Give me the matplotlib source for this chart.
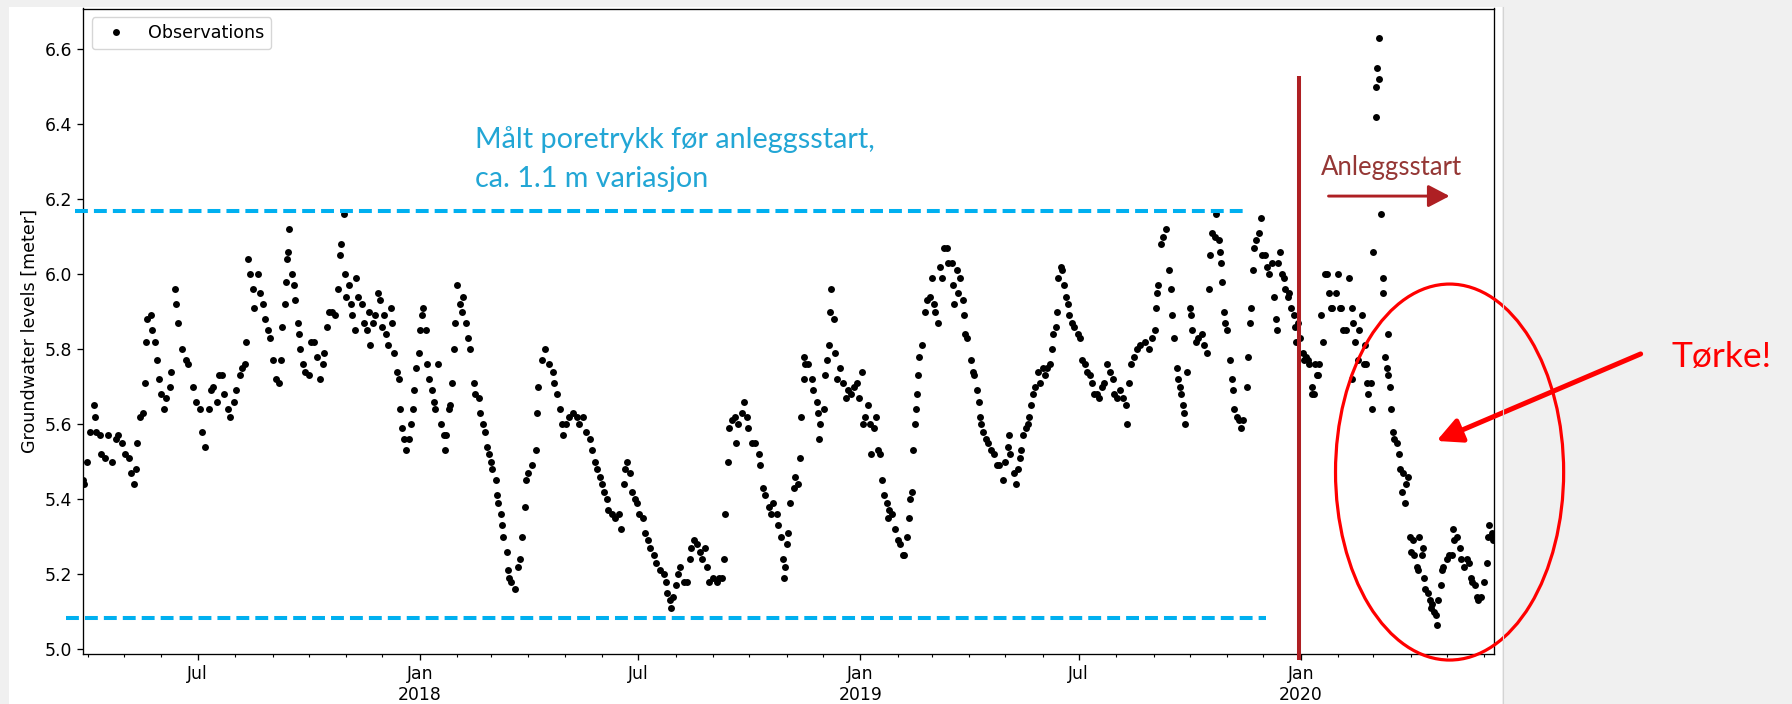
import numpy as np
import pandas as pd
import matplotlib
matplotlib.use('Agg')
import matplotlib.pyplot as plt
import matplotlib.dates as mdates
from matplotlib.patches import Ellipse, Rectangle
from matplotlib.lines import Line2D

# observation series: days since first reading, level in meter
start = pd.Timestamp('2017-03-28')

days = [
    0, 1, 3, 6, 9, 10, 11, 14, 15, 18,
    21, 24, 27, 29, 32, 35, 38, 40, 42, 44,
    45, 47, 50, 51, 52, 53, 56, 57, 60, 61,
    63, 65, 67, 69, 72, 73, 76, 77, 79, 82,
    85, 87, 91, 94, 97, 99, 101, 104, 106, 108,
    111, 113, 115, 117, 120, 122, 125, 127, 130, 132,
    134, 135, 137, 138, 141, 142, 145, 147, 149, 151,
    153, 155, 157, 160, 162, 164, 165, 167, 168, 169,
    170, 171, 173, 175, 176, 178, 179, 180, 182, 184,
    187, 189, 191, 194, 196, 199, 200, 202, 204, 206,
    209, 211, 213, 214, 216, 217, 218, 220, 222, 223,
    225, 226, 228, 231, 233, 235, 237, 238, 240, 242,
    244, 246, 248, 249, 251, 253, 255, 256, 258, 260,
    262, 263, 264, 266, 268, 270, 272, 273, 274, 276,
    278, 279, 281, 282, 284, 285, 287, 289, 291, 292,
    294, 297, 299, 300, 301, 303, 304, 306, 307, 308,
    310, 312, 314, 315, 317, 319, 321, 324, 325, 328,
    329, 331, 333, 335, 336, 338, 339, 342, 343, 344,
    346, 347, 348, 351, 352, 353, 355, 358, 360, 362,
    364, 366, 367, 369, 372, 375, 376, 377, 380, 383,
    386, 389, 390, 393, 395, 397, 398, 400, 403, 406,
    409, 411, 414, 417, 420, 422, 424, 426, 428, 430,
    432, 434, 435, 438, 441, 444, 446, 448, 449, 451,
    453, 455, 457, 459, 461, 464, 466, 468, 470, 473,
    475, 478, 481, 483, 484, 486, 487, 489, 491, 493,
    495, 498, 500, 503, 504, 506, 509, 511, 513, 515,
    517, 519, 522, 525, 527, 529, 531, 532, 534, 535,
    538, 540, 541, 543, 546, 548, 550, 551, 554, 557,
    560, 561, 563, 565, 568, 570, 572, 575, 576, 578,
    580, 581, 582, 583, 584, 586, 589, 590, 592, 594,
    595, 597, 597, 598, 601, 604, 605, 608, 609, 610,
    611, 614, 615, 616, 618, 619, 620, 622, 623, 625,
    627, 630, 632, 634, 636, 639, 641, 643, 645, 646,
    648, 650, 652, 653, 655, 657, 659, 660, 662, 664,
    666, 667, 668, 670, 673, 675, 677, 679, 680, 683,
    684, 685, 687, 688, 689, 690, 691, 692, 693, 695,
    698, 699, 702, 703, 705, 706, 708, 710, 712, 713,
    716, 717, 720, 721, 722, 724, 725, 727, 729, 730,
    731, 732, 736, 737, 738, 741, 742, 743, 744, 746,
    748, 750, 752, 755, 757, 759, 762, 764, 766, 767,
    768, 771, 773, 775, 776, 777, 779, 781, 783, 784,
    785, 787, 789, 791, 793, 795, 797, 799, 801, 803,
    804, 806, 807, 808, 810, 811, 813, 814, 816, 817,
    819, 821, 824, 826, 828, 830, 832, 834, 836, 838,
    840, 842, 844, 846, 848, 851, 853, 854, 857, 859,
    862, 864, 865, 867, 868, 871, 873, 876, 880, 883,
    886, 888, 889, 890, 891, 893, 895, 897, 900, 901,
    902, 904, 906, 907, 909, 910, 911, 912, 913, 915,
    917, 918, 919, 922, 924, 927, 929, 931, 933, 934,
    935, 938, 939, 941, 942, 943, 944, 945, 946, 948,
    950, 952, 953, 954, 956, 958, 959, 961, 964, 965,
    967, 968, 969, 970, 972, 974, 976, 977, 979, 981,
    983, 985, 987, 988, 989, 990, 992, 993, 995, 996,
    998, 999, 1001, 1003, 1004, 1005, 1007, 1008, 1011, 1012,
    1013, 1015, 1016, 1018, 1018, 1020, 1021, 1022, 1023, 1024,
    1026, 1027, 1029, 1031, 1032, 1034, 1035, 1038, 1040, 1041,
    1042, 1044, 1046, 1049, 1051, 1051, 1052, 1054, 1056, 1057,
    1060, 1061, 1062, 1063, 1064, 1065, 1067, 1068, 1069, 1071,
    1071, 1072, 1074, 1074, 1075, 1077, 1077, 1079, 1080, 1081,
    1081, 1083, 1084, 1085, 1086, 1089, 1090, 1091, 1093, 1094,
    1095, 1096, 1098, 1099, 1100, 1102, 1103, 1105, 1106, 1107,
    1109, 1110, 1111, 1112, 1114, 1116, 1117, 1118, 1119, 1121,
    1122, 1123, 1125, 1126, 1127, 1130, 1132, 1134, 1135, 1136,
    1138, 1141, 1142, 1144, 1147, 1148, 1150, 1151, 1153, 1155,
    1156, 1158, 1161, 1163, 1164, 1165, 1167, 1168, 1169,
]

level = [
    5.45, 5.44, 5.50, 5.58, 5.65, 5.62, 5.58, 5.57, 5.52, 5.51,
    5.57, 5.50, 5.56, 5.57, 5.55, 5.52, 5.51, 5.47, 5.44, 5.48,
    5.55, 5.62, 5.63, 5.71, 5.82, 5.88, 5.89, 5.85, 5.82, 5.77,
    5.72, 5.68, 5.64, 5.67, 5.70, 5.74, 5.96, 5.92, 5.87, 5.80,
    5.77, 5.76, 5.70, 5.66, 5.64, 5.58, 5.54, 5.64, 5.69, 5.70,
    5.66, 5.73, 5.73, 5.68, 5.64, 5.62, 5.66, 5.69, 5.73, 5.75,
    5.76, 5.82, 6.04, 6.00, 5.96, 5.91, 6.00, 5.95, 5.92, 5.88,
    5.85, 5.83, 5.77, 5.72, 5.71, 5.77, 5.86, 5.92, 5.98, 6.04,
    6.06, 6.12, 6.00, 5.97, 5.93, 5.87, 5.84, 5.80, 5.76, 5.74,
    5.73, 5.82, 5.82, 5.78, 5.72, 5.76, 5.79, 5.86, 5.90, 5.90,
    5.89, 5.96, 6.05, 6.08, 6.16, 6.00, 5.94, 5.97, 5.92, 5.89,
    5.85, 5.99, 5.94, 5.92, 5.87, 5.85, 5.90, 5.81, 5.87, 5.89,
    5.95, 5.93, 5.86, 5.89, 5.84, 5.81, 5.91, 5.87, 5.79, 5.74,
    5.72, 5.64, 5.59, 5.56, 5.53, 5.56, 5.60, 5.64, 5.69, 5.75,
    5.79, 5.85, 5.89, 5.91, 5.85, 5.76, 5.72, 5.69, 5.66, 5.64,
    5.76, 5.60, 5.57, 5.53, 5.57, 5.64, 5.65, 5.71, 5.80, 5.87,
    5.97, 5.92, 5.90, 5.94, 5.87, 5.83, 5.80, 5.71, 5.68, 5.67,
    5.63, 5.60, 5.58, 5.54, 5.52, 5.50, 5.48, 5.45, 5.41, 5.39,
    5.36, 5.33, 5.30, 5.26, 5.21, 5.19, 5.18, 5.16, 5.22, 5.24,
    5.30, 5.38, 5.45, 5.47, 5.49, 5.53, 5.63, 5.70, 5.77, 5.80,
    5.76, 5.74, 5.71, 5.68, 5.64, 5.60, 5.57, 5.60, 5.62, 5.63,
    5.62, 5.60, 5.62, 5.58, 5.56, 5.53, 5.50, 5.48, 5.46, 5.44,
    5.42, 5.40, 5.37, 5.36, 5.35, 5.36, 5.32, 5.44, 5.48, 5.50,
    5.47, 5.42, 5.40, 5.39, 5.36, 5.35, 5.31, 5.29, 5.27, 5.25,
    5.23, 5.21, 5.20, 5.18, 5.15, 5.13, 5.11, 5.14, 5.17, 5.20,
    5.22, 5.18, 5.18, 5.24, 5.27, 5.29, 5.28, 5.26, 5.24, 5.27,
    5.22, 5.18, 5.19, 5.18, 5.19, 5.19, 5.24, 5.36, 5.50, 5.59,
    5.61, 5.62, 5.55, 5.60, 5.63, 5.66, 5.62, 5.59, 5.55, 5.55,
    5.52, 5.49, 5.43, 5.41, 5.38, 5.36, 5.39, 5.36, 5.33, 5.30,
    5.24, 5.19, 5.22, 5.28, 5.31, 5.39, 5.43, 5.46, 5.44, 5.51,
    5.62, 5.72, 5.78, 5.76, 5.76, 5.72, 5.69, 5.66, 5.63, 5.56,
    5.60, 5.64, 5.73, 5.77, 5.81, 5.90, 5.96, 5.88, 5.79, 5.72,
    5.75, 5.71, 5.67, 5.69, 5.68, 5.70, 5.71, 5.67, 5.74, 5.60,
    5.62, 5.65, 5.60, 5.52, 5.59, 5.62, 5.53, 5.52, 5.45, 5.41,
    5.39, 5.35, 5.37, 5.36, 5.32, 5.29, 5.28, 5.25, 5.25, 5.30,
    5.35, 5.40, 5.42, 5.53, 5.60, 5.64, 5.68, 5.73, 5.78, 5.81,
    5.90, 5.93, 5.94, 5.99, 5.92, 5.90, 5.87, 6.02, 5.99, 6.07,
    6.07, 6.03, 6.03, 5.97, 5.92, 6.01, 5.95, 5.99, 5.93, 5.89,
    5.84, 5.83, 5.77, 5.74, 5.73, 5.69, 5.66, 5.62, 5.60, 5.58,
    5.56, 5.55, 5.53, 5.52, 5.49, 5.49, 5.45, 5.50, 5.54, 5.57,
    5.52, 5.47, 5.44, 5.48, 5.51, 5.53, 5.57, 5.59, 5.60, 5.62,
    5.65, 5.68, 5.70, 5.74, 5.71, 5.75, 5.73, 5.75, 5.76, 5.80,
    5.84, 5.86, 5.90, 5.99, 6.02, 6.01, 5.97, 5.94, 5.92, 5.89,
    5.87, 5.86, 5.84, 5.83, 5.77, 5.76, 5.74, 5.73, 5.71, 5.68,
    5.68, 5.67, 5.70, 5.71, 5.76, 5.74, 5.72, 5.68, 5.67, 5.69,
    5.67, 5.65, 5.60, 5.71, 5.76, 5.78, 5.80, 5.81, 5.82, 5.80,
    5.83, 5.85, 5.91, 5.95, 5.97, 6.08, 6.10, 6.12, 6.01, 5.96,
    5.89, 5.83, 5.75, 5.72, 5.70, 5.68, 5.65, 5.63, 5.60, 5.74,
    5.91, 5.89, 5.85, 5.82, 5.83, 5.84, 5.81, 5.79, 5.96, 6.05,
    6.11, 6.10, 6.16, 6.09, 6.06, 6.03, 5.98, 5.90, 5.87, 5.85,
    5.77, 5.72, 5.69, 5.64, 5.62, 5.61, 5.59, 5.61, 5.70, 5.78,
    5.87, 5.91, 6.01, 6.07, 6.09, 6.11, 6.15, 6.05, 6.05, 6.02,
    6.00, 6.03, 5.94, 5.88, 5.85, 6.03, 6.06, 6.00, 5.99, 5.96,
    5.94, 5.95, 5.91, 5.89, 5.86, 5.82, 5.87, 5.83, 5.79, 5.77,
    5.78, 5.77, 5.76, 5.70, 5.68, 5.68, 5.76, 5.73, 5.73, 5.76,
    5.89, 5.82, 6.00, 6.00, 5.95, 5.91, 5.91, 5.95, 6.00, 5.91,
    5.91, 5.85, 5.85, 5.99, 5.91, 5.72, 5.87, 5.82, 5.77, 5.85,
    5.89, 5.76, 5.81, 5.76, 5.71, 5.68, 5.71, 5.64, 6.06, 6.50,
    6.42, 6.55, 6.63, 6.52, 6.16, 5.99, 5.95, 5.78, 5.75, 5.84,
    5.73, 5.70, 5.64, 5.58, 5.56, 5.55, 5.52, 5.48, 5.42, 5.47,
    5.39, 5.44, 5.46, 5.30, 5.26, 5.29, 5.25, 5.22, 5.21, 5.30,
    5.25, 5.27, 5.19, 5.16, 5.15, 5.13, 5.11, 5.12, 5.10, 5.09,
    5.065, 5.13, 5.17, 5.21, 5.22, 5.24, 5.25, 5.25, 5.32, 5.29,
    5.30, 5.27, 5.24, 5.22, 5.24, 5.23, 5.19, 5.18, 5.17, 5.14,
    5.13, 5.14, 5.18, 5.23, 5.30, 5.33, 5.31, 5.29, 5.30,
]

dates = start + pd.to_timedelta(days, unit='D')


def at(d):
    # position on the time axis, d days after the first reading
    return mdates.date2num(start + pd.Timedelta(days=d))


plt.rcParams.update({
    'font.size': 12.4,
    'axes.linewidth': 0.95,
    'xtick.major.size': 4.1, 'xtick.minor.size': 2.3,
    'ytick.major.size': 4.1,
    'xtick.major.width': 0.95, 'xtick.minor.width': 0.8,
    'ytick.major.width': 0.95,
    'xtick.major.pad': 4, 'ytick.major.pad': 4,
})

fig = plt.figure(figsize=(17.92, 7.04), dpi=100, facecolor='#f0f0f0')
# white picture area pasted on the slide
fig.patches.append(Rectangle((9 / 1792, 0), 1493 / 1792, 697 / 704, transform=fig.transFigure,
                             facecolor='white', edgecolor='none', zorder=-2))
fig.add_artist(Line2D([1502.5 / 1792] * 2, [0, 697 / 704], color='#d4d4d4', lw=0.8))

ax = fig.add_axes([83 / 1792, 50 / 704, 1411 / 1792, 645.5 / 704])
ax.plot(dates, level, 'o', color='black', ms=5.0, mew=0, label='Observations')

ax.set_xlim(dates.min(), dates.max())
lo, hi = min(level), max(level)
pad = 0.05 * (hi - lo)
ax.set_ylim(lo - pad, hi + pad)

ax.xaxis.set_major_locator(mdates.MonthLocator(bymonth=[1, 7]))
ax.xaxis.set_minor_locator(mdates.MonthLocator())


def month_label(x, pos):
    d = mdates.num2date(x)
    return 'Jan\n%d' % d.year if d.month == 1 else 'Jul'


ax.xaxis.set_major_formatter(plt.FuncFormatter(month_label))
ax.yaxis.set_major_locator(plt.MultipleLocator(0.2))
ax.yaxis.set_major_formatter(plt.FormatStrFormatter('%.1f'))
ax.set_ylabel('Groundwater levels [meter]', fontsize=12.6)
ax.legend(loc='upper left', numpoints=1, fontsize=12.6)

# slide annotations
blue = '#00B0F0'
dark_red = '#AE1F23'
dash_kw = dict(color=blue, lw=2.9, dashes=(3.2, 1.5), clip_on=False, zorder=4)
ax.plot([at(-6.6), at(965.6)], [6.168, 6.168], **dash_kw)
ax.plot([at(-14), at(979.7)], [5.083, 5.083], **dash_kw)

ax.plot([at(1007.5)] * 2, [4.971, 6.528], color=dark_red, lw=2.9, clip_on=False,
        solid_capstyle='butt', zorder=4)

ax.text(at(324.9), 6.336, 'Målt poretrykk før anleggsstart,', color='#22A6D5',
        fontsize=20.7, family='Lato', va='baseline')
ax.text(at(324.9), 6.232, 'ca. 1.1 m variasjon', color='#22A6D5',
        fontsize=20.7, family='Lato', va='baseline')

ax.text(at(1026), 6.264, 'Anleggsstart', color='#953735', fontsize=18.5,
        family='Lato', va='baseline')
ax.annotate('', xy=(at(1132.2), 6.208), xytext=(at(1031.9), 6.208),
            arrowprops=dict(arrowstyle='-|>,head_length=1.3,head_width=0.68',
                            mutation_scale=10, color=dark_red, lw=2.1,
                            shrinkA=0, shrinkB=0), zorder=4)

ax.add_patch(Ellipse((at(1132.2), 5.472), width=189, height=1.0027, fill=False,
                     edgecolor='red', lw=2.3, clip_on=False, zorder=4))
ax.annotate('', xy=(at(1121.4), 5.555), xytext=(at(1290.5), 5.787),
            arrowprops=dict(arrowstyle='-|>,head_length=1.5,head_width=0.75',
                            mutation_scale=10, color='red', lw=3.6,
                            shrinkA=0, shrinkB=0),
            annotation_clip=False, zorder=4)
ax.text(at(1316), 5.752, 'Tørke!', color='red', fontsize=25.5, family='Lato',
        va='baseline', clip_on=False)

fig.savefig('out.png', dpi=100, facecolor=fig.get_facecolor())
